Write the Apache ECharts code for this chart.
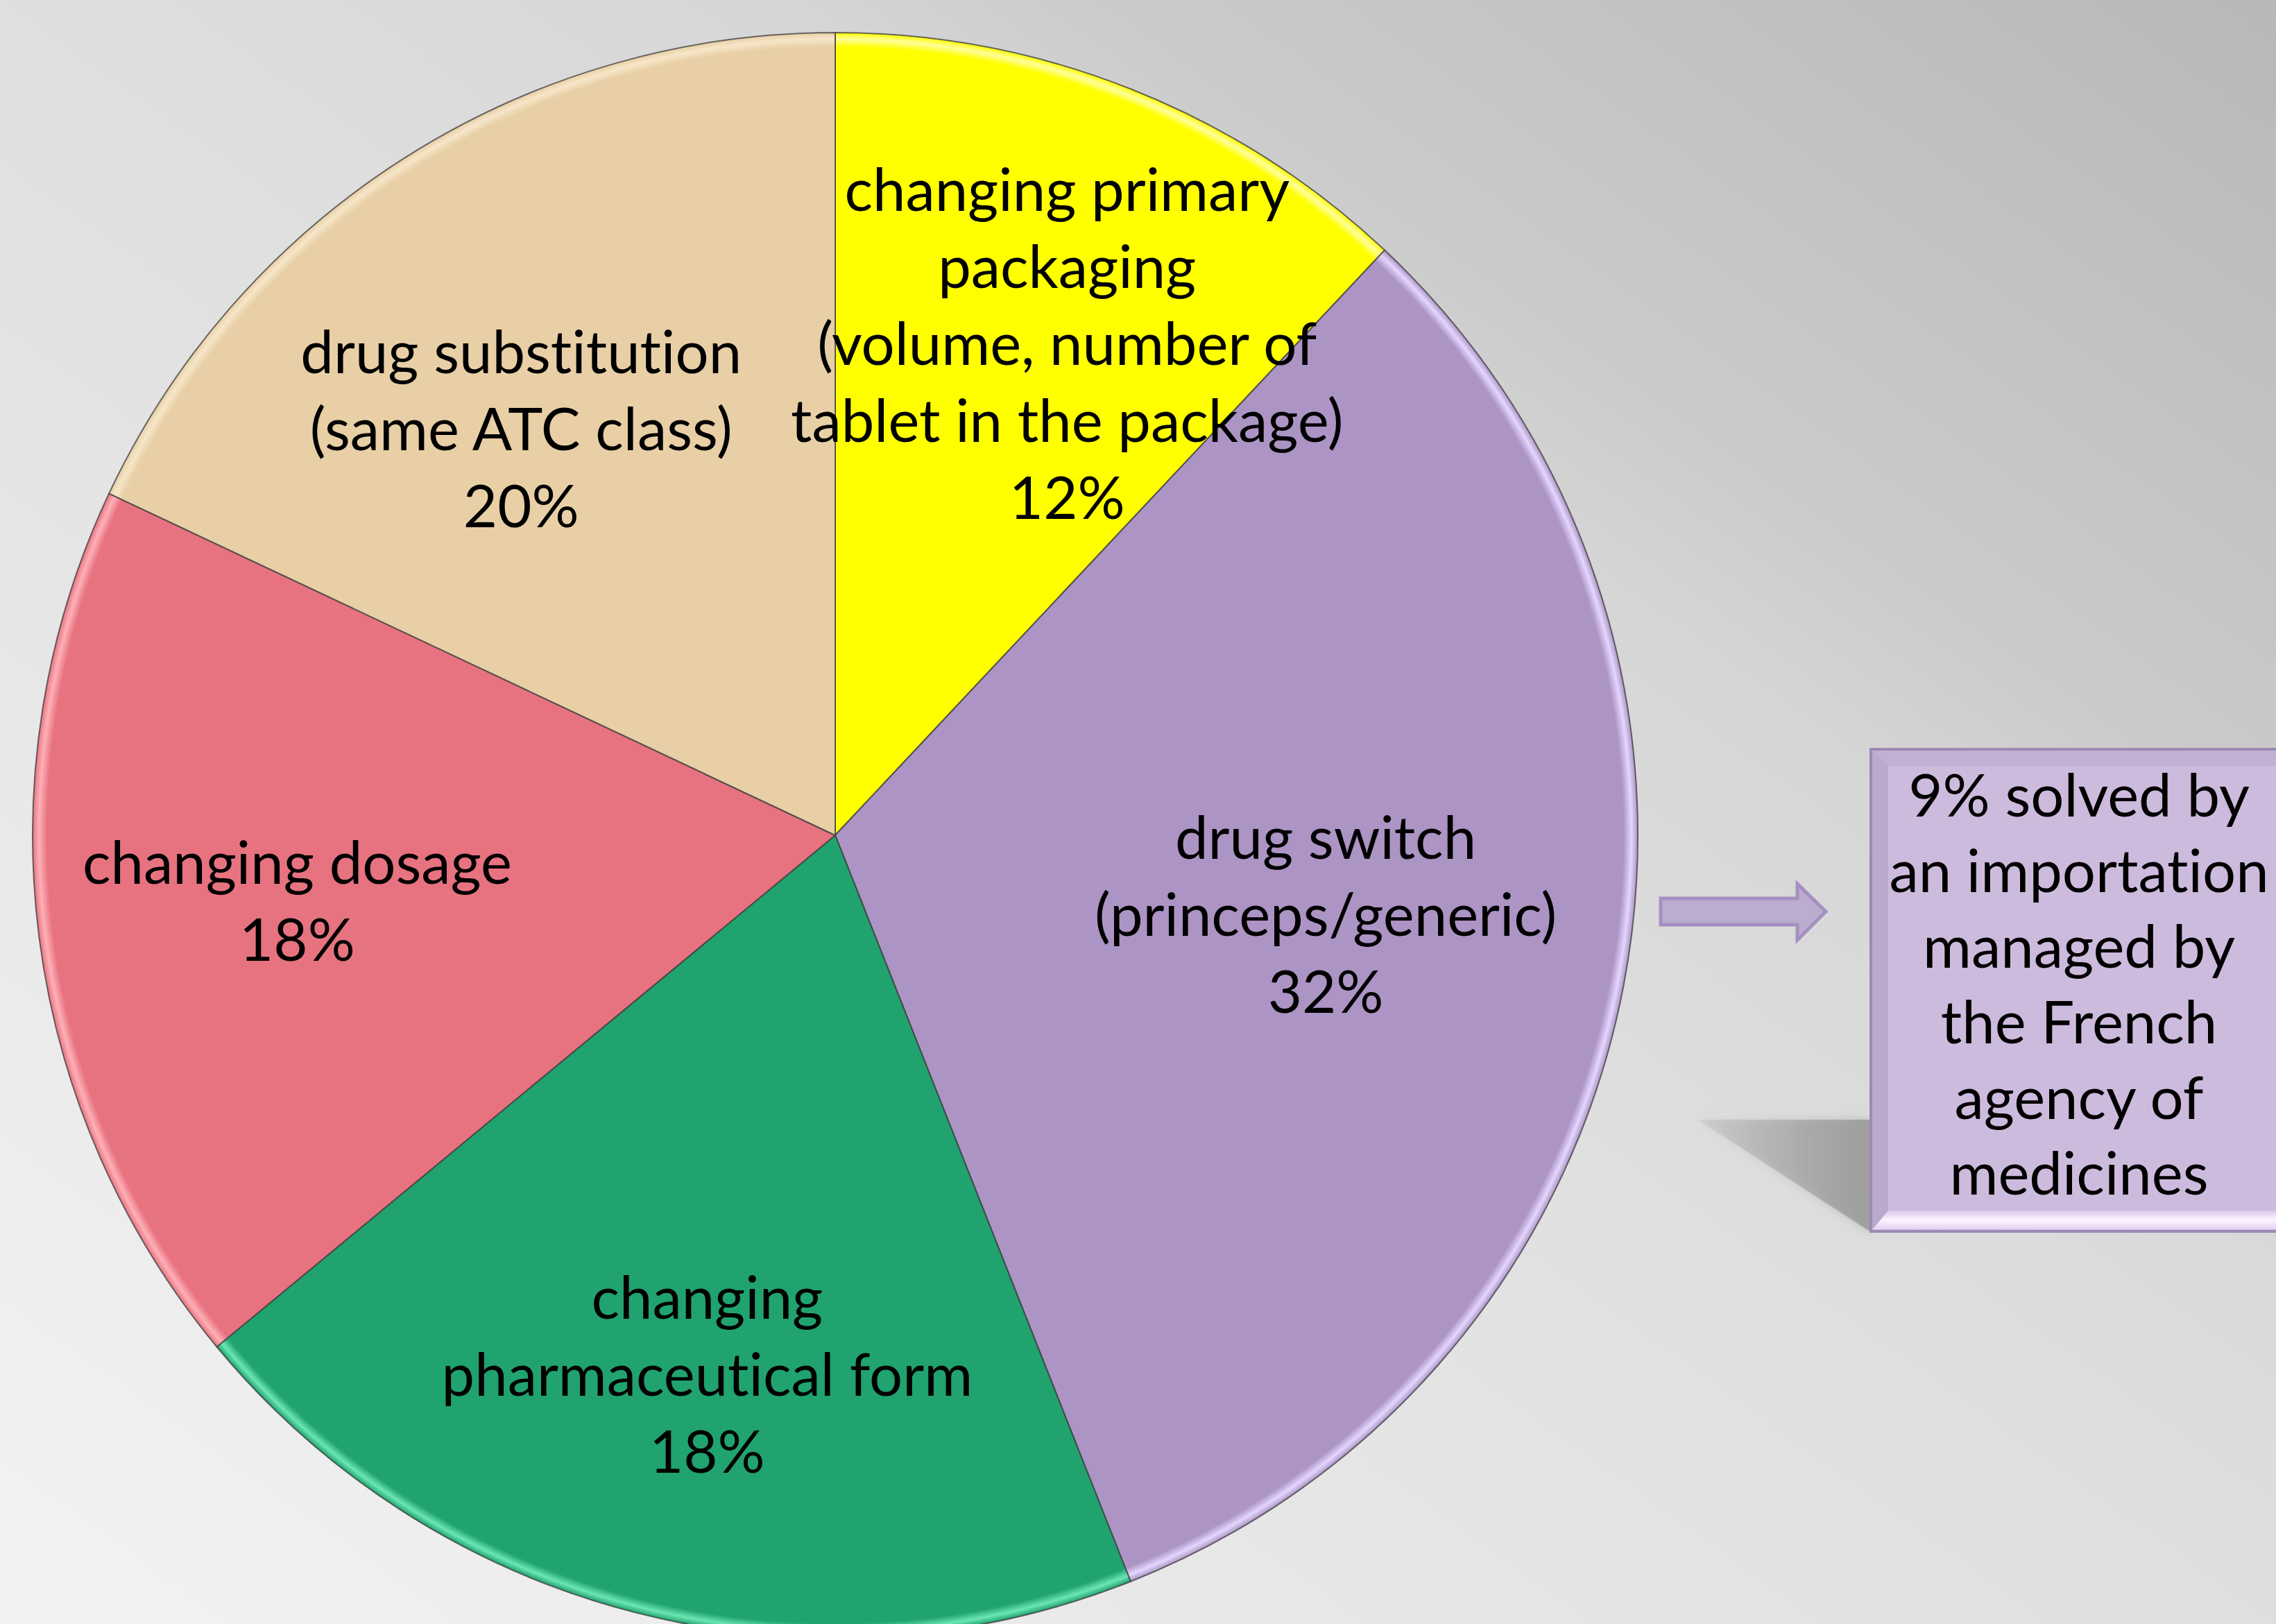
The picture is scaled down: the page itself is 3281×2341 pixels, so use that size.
<!DOCTYPE html>
<html>
<head>
<meta charset="utf-8">
<script src="https://cdn.jsdelivr.net/npm/echarts@6/dist/echarts.min.js"></script>
<style>
  html, body { margin: 0; padding: 0; }
  #chart { width: 3281px; height: 2341px; }
  #chart text { font-variant-ligatures: none; }
</style>
</head>
<body>
<div id="chart"></div>
<script>
// slices, clockwise from 12 o'clock
const categories = [
    'changing primary\npackaging\n(volume, number of\ntablet in the package)',
    'drug switch\n(princeps/generic)',
    'changing\npharmaceutical form',
    'changing dosage',
    'drug substitution\n(same ATC class)'
];
const sliceValues = [12, 32, 20, 18, 18];
// percentages as printed on the slices
const printedPct = ['12%', '32%', '18%', '18%', '20%'];
const sliceColors = ['#ffff00', '#ac94c4', '#20a36e', '#e77380', '#e8cfa6'];
const rimColors = ['#ffff9a', '#e4d6ff', '#6be6b4', '#ffb0b8', '#f6e6c8'];

const noteLines = ['9% solved by', 'an importation', 'managed by', 'the French', 'agency of', 'medicines'];

const FONT = 'Lato';
const cx = 1204, cy = 1204, R = 1157;
// small label nudges so the text sits where the original placed it
const labelNudge = [[52, 2], [-46, -32], [6, 32], [-15, -4], [-42, 59]];

const chart = echarts.init(document.getElementById('chart'), null, {renderer: 'svg'});

function sliceFill(i) {
    return {
        type: 'radial', x: cx, y: cy, r: R, global: true,
        colorStops: [
            {offset: 0, color: sliceColors[i]},
            {offset: 0.982, color: sliceColors[i]},
            {offset: 0.992, color: rimColors[i]},
            {offset: 1, color: sliceColors[i]}
        ]
    };
}

chart.setOption({
    backgroundColor: {
        type: 'linear', x: 1, y: 0, x2: 0, y2: 1,
        colorStops: [
            {offset: 0, color: '#b8b8b8'},
            {offset: 0.26, color: '#cbcbcb'},
            {offset: 0.33, color: '#d6d6d6'},
            {offset: 0.5, color: '#dfdfdf'},
            {offset: 0.75, color: '#e9e9e9'},
            {offset: 1, color: '#f3f3f3'}
        ]
    },
    animation: false,
    series: [{
        type: 'pie',
        center: [cx, cy],
        radius: [0, R],
        startAngle: 90,
        clockwise: true,
        silent: true,
        label: {show: false},
        labelLine: {show: false},
        itemStyle: {
            borderColor: 'rgba(60,60,60,0.75)',
            borderWidth: 2
        },
        data: categories.map((name, i) => ({
            name: name,
            value: sliceValues[i],
            itemStyle: {color: sliceFill(i)}
        }))
    }, {
        // transparent copy used only to place the labels further out
        type: 'pie',
        center: [cx, cy],
        radius: [R * 0.32, R],
        startAngle: 90,
        clockwise: true,
        silent: true,
        itemStyle: {color: 'rgba(0,0,0,0)', borderColor: 'rgba(0,0,0,0)', borderWidth: 0},
        labelLine: {show: false},
        label: {
            show: true,
            position: 'inside',
            color: '#000',
            fontFamily: FONT,
            fontSize: 85,
            lineHeight: 111,
            align: 'center',
            formatter: p => p.name + '\n' + printedPct[p.dataIndex]
        },
        data: categories.map((name, i) => ({
            name: name,
            value: sliceValues[i],
            label: {offset: labelNudge[i]}
        }))
    }],
    graphic: [{
        // shadow behind the note box
        type: 'polygon',
        shape: {points: [[2447, 1614], [2697, 1614], [2697, 1776]]},
        style: {
            fill: {
                type: 'linear', x: 0, y: 0, x2: 1, y2: 0,
                colorStops: [{offset: 0, color: 'rgba(150,150,150,0.15)'}, {offset: 1, color: 'rgba(150,150,150,0.8)'}]
            },
            shadowBlur: 14,
            shadowColor: 'rgba(130,130,130,0.5)'
        }
    }, {
        type: 'polygon',
        shape: {
            points: [[2394, 1295], [2591, 1295], [2591, 1274], [2632, 1314],
                [2591, 1355], [2591, 1333], [2394, 1333]]
        },
        style: {fill: '#bcaccf', stroke: '#a58fc1', lineWidth: 5}
    }, {
        type: 'rect',
        shape: {x: 2697, y: 1080, width: 640, height: 695},
        style: {fill: '#cdbbdd', stroke: '#9d89b5', lineWidth: 4}
    }, {
        // bottom bevel highlight
        type: 'polygon',
        shape: {points: [[2700, 1772], [2722, 1745], [3300, 1745], [3300, 1772]]},
        style: {
            fill: {
                type: 'linear', x: 0, y: 0, x2: 0, y2: 1,
                colorStops: [{offset: 0, color: '#d9c8ea'}, {offset: 0.5, color: '#fdf4ff'}, {offset: 1, color: '#e3d3f2'}]
            }
        }
    }, {
        // left bevel shade
        type: 'polygon',
        shape: {points: [[2699, 1082], [2722, 1105], [2722, 1745], [2699, 1772]]},
        style: {fill: '#bba8cd'}
    }, {
        // top bevel shade
        type: 'polygon',
        shape: {points: [[2699, 1082], [3300, 1082], [3300, 1105], [2722, 1105]]},
        style: {fill: '#c2b0d4'}
    }, {
        type: 'text',
        x: 2997,
        y: 1416,
        style: {
            text: noteLines.join('\n'),
            fontFamily: FONT,
            fontSize: 85,
            lineHeight: 109,
            fill: '#000',
            align: 'center',
            verticalAlign: 'middle'
        }
    }]
});
</script>
</body>
</html>
